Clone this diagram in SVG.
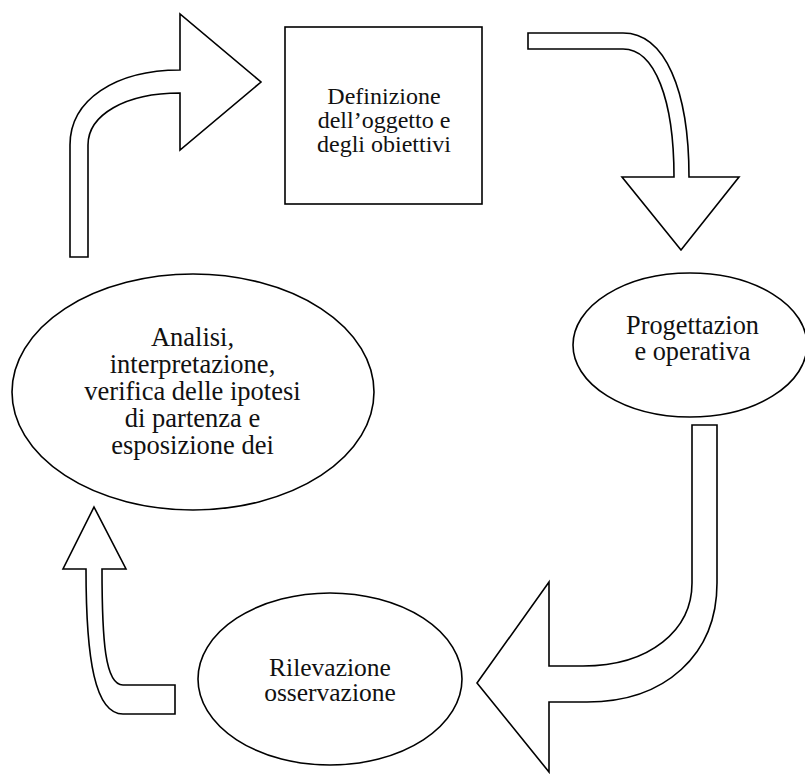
<svg xmlns="http://www.w3.org/2000/svg" width="805" height="780" viewBox="0 0 805 780">
<style>
.shape{fill:#fff;stroke:#000;stroke-width:1.6;stroke-linejoin:miter}
.t{font-family:"Liberation Serif","Times New Roman",serif;fill:#111}
.c{text-anchor:middle}
</style>
<rect width="805" height="780" fill="#fff"/>
<g id="connectors">
<path class="shape" d="M70,257 L70,145 C70,100 115,70 180,70 L180,14 L261,82 L180,150 L180,93 C125,93 88,115 88,145 L88,257 Z"/>
<path class="shape" d="M528,33 L623,33 C665,33 689,90 689,177 L739,177 L681,250 L622,177 L674,177 C674,100 655,49 623,49 L528,49 Z"/>
<path class="shape" d="M692,425 L717,425 L717,583 C717,655 665,702 587,702 L549,702 L549,772 L477,683 L549,582 L549,666 L583,666 C650,666 692,630 692,583 Z"/>
<path class="shape" d="M94,507 L126,569 L102,569 C102,640 105,685 123,685 L175,685 L175,714 L123,714 C95,714 86,660 86,569 L63,569 Z"/>
</g>
<g id="definizione">
<rect class="shape" x="285" y="27" width="197" height="177"/>
<text class="t c" font-size="24"><tspan x="384" y="104">Definizione</tspan><tspan x="384" y="128">dell’oggetto e</tspan><tspan x="384" y="152">degli obiettivi</tspan></text>
</g>
<g id="progettazione">
<ellipse class="shape" cx="690" cy="345" rx="117" ry="72"/>
<text class="t c" font-size="26.3"><tspan x="692.5" y="334">Progettazion</tspan><tspan x="692.5" y="360">e operativa</tspan></text>
</g>
<g id="rilevazione">
<ellipse class="shape" cx="330" cy="679" rx="132" ry="86"/>
<text class="t c" font-size="25.5"><tspan x="330" y="676">Rilevazione</tspan><tspan x="330" y="701">osservazione</tspan></text>
</g>
<g id="analisi">
<ellipse class="shape" cx="193" cy="392" rx="181" ry="118"/>
<text class="t c" font-size="26.5"><tspan x="192.5" y="346">Analisi,</tspan><tspan x="192.5" y="373">interpretazione,</tspan><tspan x="192.5" y="400">verifica delle ipotesi</tspan><tspan x="192.5" y="427">di partenza e</tspan><tspan x="192.5" y="454">esposizione dei</tspan></text>
</g>
</svg>
